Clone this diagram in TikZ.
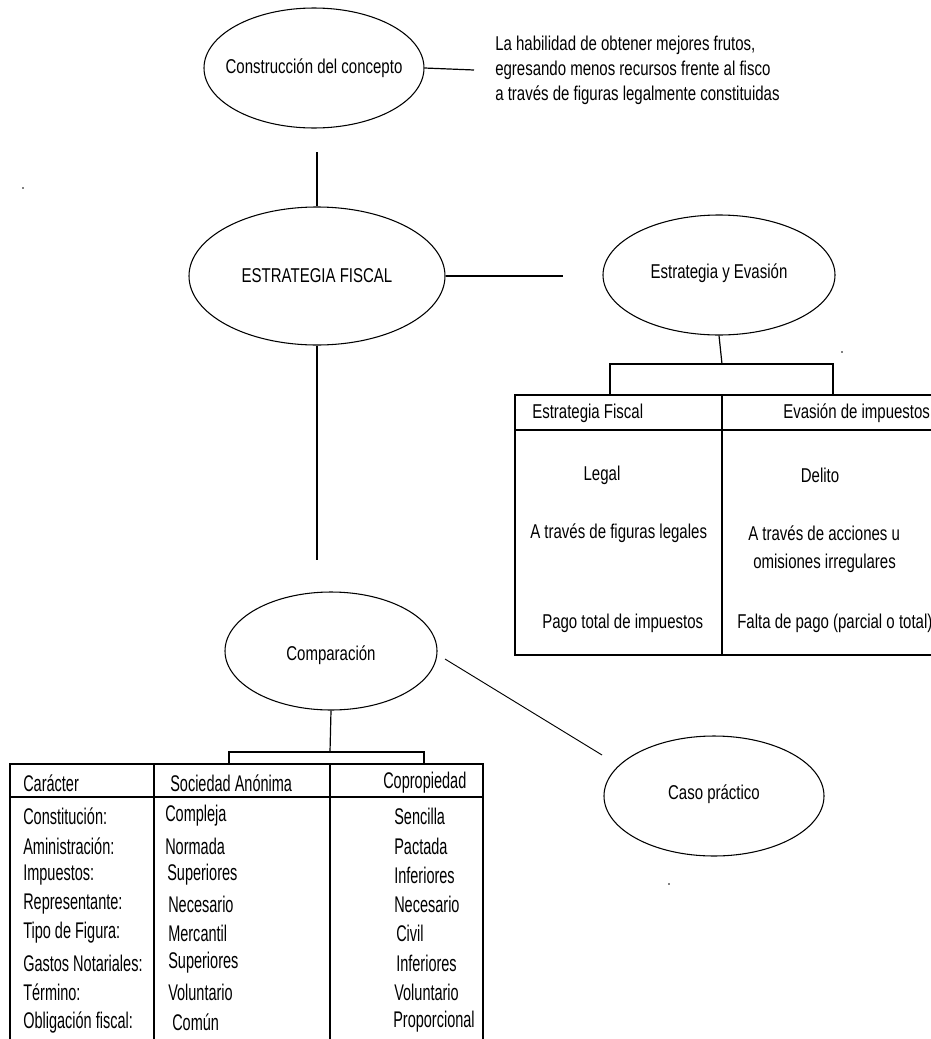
\documentclass[tikz,border=0pt]{standalone}
\usepackage{fontspec}
\setmainfont{Liberation Sans}[FakeStretch=0.75]
\newfontfamily\tabfont{Liberation Sans}[FakeStretch=0.64]
\usetikzlibrary{shapes.geometric}
\tikzset{
  ell/.style={ellipse, draw=black, line width=0.8pt, inner sep=0pt},
  txt/.style={inner sep=0pt, font=\fontsize{15pt}{18.75pt}\selectfont, text=black},
  lbl/.style={txt, anchor=west},
  tab/.style={inner sep=0pt, anchor=west, font=\tabfont\fontsize{17pt}{20pt}\selectfont, text=black},
  conn/.style={draw=black, line width=0.9pt},
  grid/.style={draw=black, line width=0.9pt},
  dot/.style={circle, fill=black, inner sep=0pt, minimum size=1.3pt}
}
\begin{document}
\begin{tikzpicture}[x=0.75pt, y=-0.75pt]
\useasboundingbox (0,0) rectangle (931,1039);
\clip (0,0) rectangle (931,1039);

% --- concept definition -------------------------------------------------
\node[ell, minimum width=165pt, minimum height=90pt] (e1) at (314,68) {};
\node[txt] (e1t) at (314,68) {Construcción del concepto};
\coordinate (l1end) at (474,70);
\draw[conn] (e1.east) -- (l1end);
\node[txt, anchor=west, align=left] (def) at (495,70)
  {La habilidad de obtener mejores frutos,\\
   egresando menos recursos frente al fisco\\
   a través de figuras legalmente constituidas};

% --- main node ----------------------------------------------------------
\node[ell, minimum width=192pt, minimum height=103.5pt] (e2) at (317,276) {};
\node[txt] (e2t) at (317,276) {ESTRATEGIA FISCAL};
\coordinate (v1top) at (317,152);
\draw[conn] (v1top) -- (e2.north);

% --- strategy vs. evasion -----------------------------------------------
\node[ell, minimum width=174pt, minimum height=90pt] (e3) at (719,275) {};
\node[txt] (e3t) at (719,273) {Estrategia y Evasión};
\coordinate (l2end) at (563,276);
\draw[conn] (e2.east) -- (l2end);

\coordinate (b1) at (722,364);
\draw[conn] (e3.south) -- (b1);
\draw[conn] (610,395) -- (610,364) -- (833,364) -- (833,395);

% table: Estrategia Fiscal / Evasión de impuestos
\draw[grid] (935,395) -- (515,395) -- (515,655) -- (935,655);
\draw[grid] (515,430) -- (935,430);
\draw[grid] (722,395) -- (722,655);

\node[lbl] (h1) at (532,413) {Estrategia Fiscal};
\node[lbl] (h2) at (783,413) {Evasión de impuestos};
\node[txt] (r1a) at (602,475) {Legal};
\node[txt] (r1b) at (820,475) {Delito};
\node[lbl] (r2a) at (530,533) {A través de figuras legales};
\node[lbl] (r2b) at (748,533) {A través de acciones u};
\node[lbl] (r2c) at (753,563) {omisiones irregulares};
\node[lbl] (r3a) at (542,623) {Pago total de impuestos};
\node[lbl] (r3b) at (737,623) {Falta de pago (parcial o total)};

% --- comparison ---------------------------------------------------------
\coordinate (v2end) at (317,560);
\draw[conn] (e2.south) -- (v2end);

\node[ell, minimum width=159pt, minimum height=88.5pt] (e4) at (331,651) {};
\node[txt] (e4t) at (331,655) {Comparación};

\node[ell, minimum width=165pt, minimum height=90pt] (e5) at (714,796) {};
\node[txt] (e5t) at (714,794) {Caso práctico};
\coordinate (l3a) at (445,659);
\coordinate (l3b) at (602,755);
\draw[conn, line width=0.7pt] (l3a) -- (l3b);

\coordinate (b2) at (330,752);
\draw[conn] (e4.south) -- (b2);
\draw[conn] (229,764) -- (229,752) -- (424,752) -- (424,764);

% table: Sociedad Anónima / Copropiedad
\draw[grid] (10,1045) -- (10,764) -- (483,764) -- (483,1045);
\draw[grid] (10,797) -- (483,797);
\draw[grid, line width=1.8pt] (154,764) -- (154,1045);
\draw[grid] (330,764) -- (330,1045);

\node[tab] (c0) at (23,783) {Carácter};
\node[tab] (s0) at (170,783) {Sociedad Anónima};
\node[tab] (p0) at (383,783) {Copropiedad};

\node[tab] (c1) at (23,816) {Constitución:};
\node[tab] (c2) at (23,846) {Aministración:};
\node[tab] (c3) at (23,875) {Impuestos:};
\node[tab] (c4) at (23,904) {Representante:};
\node[tab] (c5) at (23,933) {Tipo de Figura:};
\node[tab] (c6) at (23,963) {Gastos Notariales:};
\node[tab] (c7) at (23,992) {Término:};
\node[tab] (c8) at (23,1022) {Obligación fiscal:};

\node[tab] (s1) at (165,816) {Compleja};
\node[tab] (s2) at (165,846) {Normada};
\node[tab] (s3) at (167,875) {Superiores};
\node[tab] (s4) at (168,904) {Necesario};
\node[tab] (s5) at (168,933) {Mercantil};
\node[tab] (s6) at (168,963) {Superiores};
\node[tab] (s7) at (168,992) {Voluntario};
\node[tab] (s8) at (172,1022) {Común};

\node[tab] (p1) at (394,816) {Sencilla};
\node[tab] (p2) at (394,846) {Pactada};
\node[tab] (p3) at (394,875) {Inferiores};
\node[tab] (p4) at (394,904) {Necesario};
\node[tab] (p5) at (396,933) {Civil};
\node[tab] (p6) at (396,963) {Inferiores};
\node[tab] (p7) at (394,992) {Voluntario};
\node[tab] (p8) at (393,1022) {Proporcional};

% --- stray dots ---------------------------------------------------------
\node[dot] (d1) at (23,188) {};
\node[dot] (d2) at (842,352) {};
\node[dot] (d3) at (669,884) {};
\end{tikzpicture}
\end{document}
